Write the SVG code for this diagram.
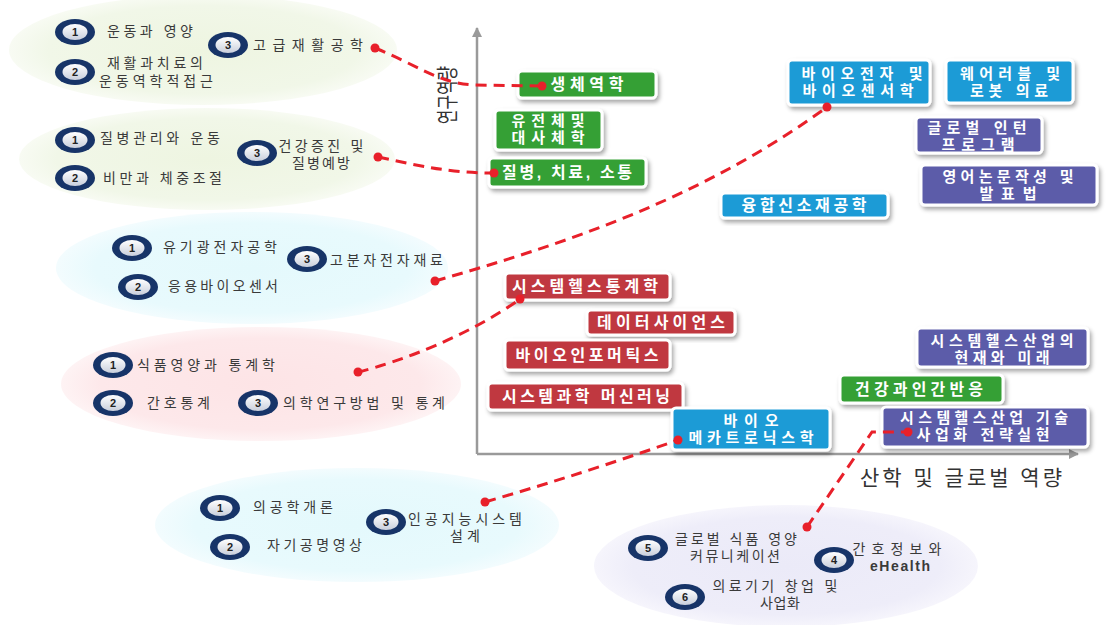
<svg xmlns="http://www.w3.org/2000/svg" width="1107" height="625" viewBox="0 0 1107 625">
<defs>
<radialGradient id="gGreen" cx="50%" cy="50%" r="50%"><stop offset="0%" stop-color="#eef5e1"/><stop offset="80%" stop-color="#f1f7e8"/><stop offset="100%" stop-color="#f8fbf3"/></radialGradient>
<radialGradient id="gCyan" cx="50%" cy="50%" r="50%"><stop offset="0%" stop-color="#e4f9fc"/><stop offset="80%" stop-color="#e8fafd"/><stop offset="100%" stop-color="#f3fcfe"/></radialGradient>
<radialGradient id="gPink" cx="50%" cy="50%" r="50%"><stop offset="0%" stop-color="#fde4e6"/><stop offset="80%" stop-color="#fde8ea"/><stop offset="100%" stop-color="#fef3f4"/></radialGradient>
<radialGradient id="gLav" cx="50%" cy="50%" r="50%"><stop offset="0%" stop-color="#ebeaf8"/><stop offset="80%" stop-color="#eeedf9"/><stop offset="100%" stop-color="#f6f5fc"/></radialGradient>
<linearGradient id="gBadge" x1="0" y1="0" x2="0" y2="1"><stop offset="0%" stop-color="#ffffff"/><stop offset="100%" stop-color="#c9cfdc"/></linearGradient>
<filter id="shadow" x="-10%" y="-20%" width="125%" height="150%"><feDropShadow dx="2" dy="3" stdDeviation="2" flood-color="#000" flood-opacity="0.35"/></filter>
<marker id="axArrow" viewBox="0 0 10 10" refX="9" refY="5" markerWidth="4" markerHeight="4" orient="auto"><path d="M0,0 L10,5 L0,10 z" fill="#9a9a9a"/></marker>
</defs>
<style>
text{font-family:"Liberation Sans","Noto Sans CJK KR",sans-serif;}
.et{font-size:14px;fill:#3a3a3a;}
.bt{font-size:16px;font-weight:bold;fill:#ffffff;text-anchor:middle;}
.bt2{font-size:15px;font-weight:bold;fill:#ffffff;text-anchor:middle;}
.num{font-size:11px;font-weight:bold;fill:#222;text-anchor:middle;}
.ring{fill:#173468;}
.core{fill:url(#gBadge);}
.box{stroke:#ffffff;stroke-width:3;filter:url(#shadow);}
.green{fill:#35a035;}
.blue{fill:#1d9bd6;}
.red{fill:#c0393f;}
.purple{fill:#5b5ba9;}
.axis{stroke:#9a9a9a;stroke-width:2.5;fill:none;}
.conn{stroke:#e8202a;stroke-width:3;fill:none;stroke-dasharray:11 7;}
.dot{fill:#e8202a;}
.mid{text-anchor:middle;}
</style>

<g id="clusters">
<g id="cluster-rehab">
<ellipse cx="203" cy="50" rx="194" ry="55" fill="url(#gGreen)"/>
<g id="b-rehab-1"><ellipse class="ring" cx="75" cy="32" rx="20" ry="13"/><ellipse class="core" cx="75" cy="32" rx="12.5" ry="8"/><text class="num" x="75" y="36">1</text></g>
<text class="et" x="107" y="36" textLength="86">운동과 영양</text>
<g id="b-rehab-2"><ellipse class="ring" cx="75" cy="72" rx="20" ry="13"/><ellipse class="core" cx="75" cy="72" rx="12.5" ry="8"/><text class="num" x="75" y="76">2</text></g>
<text class="et mid"><tspan x="155" y="68" textLength="96">재활과치료의</tspan><tspan x="156" y="86" textLength="114">운동역학적접근</tspan></text>
<g id="b-rehab-3"><ellipse class="ring" cx="228" cy="45" rx="20" ry="13"/><ellipse class="core" cx="228" cy="45" rx="12.5" ry="8"/><text class="num" x="228" y="49">3</text></g>
<text class="et" x="253" y="50" textLength="110">고급재활공학</text>
</g>

<g id="cluster-health">
<ellipse cx="207" cy="159" rx="188" ry="51" fill="url(#gGreen)"/>
<g id="b-health-1"><ellipse class="ring" cx="75" cy="140" rx="20" ry="13"/><ellipse class="core" cx="75" cy="140" rx="12.5" ry="8"/><text class="num" x="75" y="144">1</text></g>
<text class="et" x="100" y="143" textLength="120">질병관리와 운동</text>
<g id="b-health-2"><ellipse class="ring" cx="75" cy="178" rx="20" ry="13"/><ellipse class="core" cx="75" cy="178" rx="12.5" ry="8"/><text class="num" x="75" y="182">2</text></g>
<text class="et" x="103" y="183" textLength="119">비만과 체중조절</text>
<g id="b-health-3"><ellipse class="ring" cx="257" cy="153" rx="20" ry="13"/><ellipse class="core" cx="257" cy="153" rx="12.5" ry="8"/><text class="num" x="257" y="157">3</text></g>
<text class="et mid"><tspan x="321" y="151" textLength="85">건강증진 및</tspan><tspan x="321" y="168" textLength="58">질병예방</tspan></text>
</g>

<g id="cluster-electronics">
<ellipse cx="252" cy="268" rx="196" ry="56" fill="url(#gCyan)"/>
<g id="b-elec-1"><ellipse class="ring" cx="132" cy="248" rx="20" ry="13"/><ellipse class="core" cx="132" cy="248" rx="12.5" ry="8"/><text class="num" x="132" y="252">1</text></g>
<text class="et" x="163" y="252" textLength="114">유기광전자공학</text>
<g id="b-elec-2"><ellipse class="ring" cx="138" cy="287" rx="20" ry="13"/><ellipse class="core" cx="138" cy="287" rx="12.5" ry="8"/><text class="num" x="138" y="291">2</text></g>
<text class="et" x="168" y="291" textLength="110">응용바이오센서</text>
<g id="b-elec-3"><ellipse class="ring" cx="307" cy="259" rx="20" ry="13"/><ellipse class="core" cx="307" cy="259" rx="12.5" ry="8"/><text class="num" x="307" y="263">3</text></g>
<text class="et" x="330" y="265" textLength="113">고분자전자재료</text>
</g>

<g id="cluster-stats">
<ellipse cx="261" cy="384" rx="200" ry="57" fill="url(#gPink)"/>
<g id="b-stats-1"><ellipse class="ring" cx="113" cy="365" rx="20" ry="13"/><ellipse class="core" cx="113" cy="365" rx="12.5" ry="8"/><text class="num" x="113" y="369">1</text></g>
<text class="et" x="137" y="370" textLength="138">식품영양과 통계학</text>
<g id="b-stats-2"><ellipse class="ring" cx="113" cy="403" rx="20" ry="13"/><ellipse class="core" cx="113" cy="403" rx="12.5" ry="8"/><text class="num" x="113" y="407">2</text></g>
<text class="et" x="147" y="408" textLength="63">간호통계</text>
<g id="b-stats-3"><ellipse class="ring" cx="258" cy="403" rx="20" ry="13"/><ellipse class="core" cx="258" cy="403" rx="12.5" ry="8"/><text class="num" x="258" y="407">3</text></g>
<text class="et" x="283" y="408" textLength="162">의학연구방법 및 통계</text>
</g>

<g id="cluster-biomed">
<ellipse cx="357" cy="525" rx="202" ry="57" fill="url(#gCyan)"/>
<g id="b-bio-1"><ellipse class="ring" cx="220" cy="508" rx="20" ry="13"/><ellipse class="core" cx="220" cy="508" rx="12.5" ry="8"/><text class="num" x="220" y="512">1</text></g>
<text class="et" x="253" y="512" textLength="80">의공학개론</text>
<g id="b-bio-2"><ellipse class="ring" cx="230" cy="547" rx="20" ry="13"/><ellipse class="core" cx="230" cy="547" rx="12.5" ry="8"/><text class="num" x="230" y="551">2</text></g>
<text class="et" x="267" y="550" textLength="95">자기공명영상</text>
<g id="b-bio-3"><ellipse class="ring" cx="386" cy="522" rx="20" ry="13"/><ellipse class="core" cx="386" cy="522" rx="12.5" ry="8"/><text class="num" x="386" y="526">3</text></g>
<text class="et mid"><tspan x="465" y="524" textLength="114">인공지능시스템</tspan><tspan x="465" y="541" textLength="30">설계</tspan></text>
</g>

<g id="cluster-industry">
<ellipse cx="786" cy="566" rx="192" ry="61" fill="url(#gLav)"/>
<g id="b-ind-5"><ellipse class="ring" cx="648" cy="548" rx="20" ry="13"/><ellipse class="core" cx="648" cy="548" rx="12.5" ry="8"/><text class="num" x="648" y="552">5</text></g>
<text class="et mid"><tspan x="736" y="544" textLength="122">글로벌 식품 영양</tspan><tspan x="735" y="561" textLength="90">커뮤니케이션</tspan></text>
<g id="b-ind-4"><ellipse class="ring" cx="834" cy="560" rx="20" ry="13"/><ellipse class="core" cx="834" cy="560" rx="12.5" ry="8"/><text class="num" x="834" y="564">4</text></g>
<text class="et mid"><tspan x="897" y="554" textLength="89">간호정보와</tspan><tspan x="900" y="571" style="font-weight:bold" textLength="60">eHealth</tspan></text>
<g id="b-ind-6"><ellipse class="ring" cx="685" cy="597" rx="20" ry="13"/><ellipse class="core" cx="685" cy="597" rx="12.5" ry="8"/><text class="num" x="685" y="601">6</text></g>
<text class="et mid"><tspan x="775" y="591" textLength="125">의료기기 창업 및</tspan><tspan x="780" y="608" textLength="40">사업화</tspan></text>
</g>
</g>

<g id="axes">
<line class="axis" x1="477" y1="454" x2="477" y2="28" marker-end="url(#axArrow)"/>
<line class="axis" x1="477" y1="454" x2="1078" y2="454" marker-end="url(#axArrow)"/>
<text transform="translate(447,95) rotate(-90) scale(0.72,1)" x="0" y="8" text-anchor="middle" style="font-size:22px;fill:#333">연구역량</text>
<text x="860" y="485" style="font-size:21px;fill:#333" textLength="202">산학 및 글로벌 역량</text>
</g>

<g id="boxes">
<g id="n-biomech"><rect class="box green" x="518" y="71" width="138" height="27" rx="4"/><text class="bt" x="587" y="90" textLength="73">생체역학</text></g>
<g id="n-genome"><rect class="box green" x="495" y="110" width="107" height="40" rx="4"/><text class="bt2"><tspan x="548" y="126" textLength="73">유전체및</tspan><tspan x="548" y="143" textLength="73">대사체학</tspan></text></g>
<g id="n-disease"><rect class="box green" x="489" y="158" width="157" height="29" rx="4"/><text class="bt" x="567" y="178" textLength="130">질병, 치료, 소통</text></g>
<g id="n-bioelec"><rect class="box blue" x="788" y="60" width="142" height="45" rx="4"/><text class="bt2"><tspan x="862" y="79" textLength="121">바이오전자 및</tspan><tspan x="858" y="96" textLength="111">바이오센서학</tspan></text></g>
<g id="n-wearable"><rect class="box blue" x="946" y="60" width="127" height="43" rx="4"/><text class="bt2"><tspan x="1010" y="79" textLength="100">웨어러블 및</tspan><tspan x="1009" y="96" textLength="78">로봇 의료</tspan></text></g>
<g id="n-intern"><rect class="box purple" x="916" y="117" width="126" height="36" rx="4"/><text class="bt2"><tspan x="977" y="133" textLength="99">글로벌 인턴</tspan><tspan x="978" y="150" textLength="73">프로그램</tspan></text></g>
<g id="n-english"><rect class="box purple" x="921" y="165" width="176" height="40" rx="4"/><text class="bt2"><tspan x="1008" y="182" textLength="131">영어논문작성 및</tspan><tspan x="1008" y="199" textLength="57">발표법</tspan></text></g>
<g id="n-materials"><rect class="box blue" x="721" y="193" width="167" height="25" rx="4"/><text class="bt" x="804" y="211" textLength="125">융합신소재공학</text></g>
<g id="n-sysstat"><rect class="box red" x="505" y="273" width="165" height="27" rx="4"/><text class="bt" x="585" y="292" textLength="146">시스템헬스통계학</text></g>
<g id="n-datasci"><rect class="box red" x="587" y="310" width="148" height="25" rx="4"/><text class="bt" x="661" y="328" textLength="128">데이터사이언스</text></g>
<g id="n-bioinfo"><rect class="box red" x="505" y="340" width="165" height="30" rx="4"/><text class="bt" x="587" y="361" textLength="143">바이오인포머틱스</text></g>
<g id="n-ml"><rect class="box red" x="488" y="383" width="195" height="27" rx="4"/><text class="bt" x="586" y="402" textLength="168">시스템과학 머신러닝</text></g>
<g id="n-mechatronics"><rect class="box blue" x="672" y="408" width="158" height="42" rx="4"/><text class="bt2"><tspan x="751" y="426" textLength="55">바이오</tspan><tspan x="751" y="443" textLength="125">메카트로닉스학</tspan></text></g>
<g id="n-industry-future"><rect class="box purple" x="917" y="328" width="171" height="39" rx="4"/><text class="bt2"><tspan x="1002" y="346" textLength="143">시스템헬스산업의</tspan><tspan x="1002" y="363" textLength="95">현재와 미래</tspan></text></g>
<g id="n-human"><rect class="box green" x="840" y="375" width="163" height="28" rx="4"/><text class="bt" x="919" y="395" textLength="128">건강과인간반응</text></g>
<g id="n-strategy"><rect class="box purple" x="882" y="407" width="206" height="40" rx="4"/><text class="bt2"><tspan x="984" y="423" textLength="168">시스템헬스산업 기술</tspan><tspan x="983" y="440" textLength="133">사업화 전략실현</tspan></text></g>
</g>

<g id="connectors">
<path class="conn" d="M375,48 C415,64 440,84 475,85 L542,86"/>
<circle class="dot" cx="375" cy="48" r="4.5"/><circle class="dot" cx="542" cy="86" r="4.5"/>
<path class="conn" d="M378,157 C420,166 450,173 494,173"/>
<circle class="dot" cx="378" cy="157" r="4.5"/><circle class="dot" cx="494" cy="173" r="4.5"/>
<path class="conn" d="M435,281 C560,245 700,200 827,107"/>
<circle class="dot" cx="435" cy="281" r="4.5"/><circle class="dot" cx="827" cy="107" r="4.5"/>
<path class="conn" d="M358,372 C400,362 470,335 520,299"/>
<circle class="dot" cx="358" cy="372" r="4.5"/><circle class="dot" cx="520" cy="299" r="4.5"/>
<path class="conn" d="M485,502 Q585,473 678,440"/>
<circle class="dot" cx="485" cy="502" r="4.5"/><circle class="dot" cx="678" cy="440" r="4.5"/>
<path class="conn" d="M807,527 L872,432 L908,432"/>
<circle class="dot" cx="807" cy="527" r="4.5"/><circle class="dot" cx="908" cy="432" r="4.5"/>
</g>
</svg>
